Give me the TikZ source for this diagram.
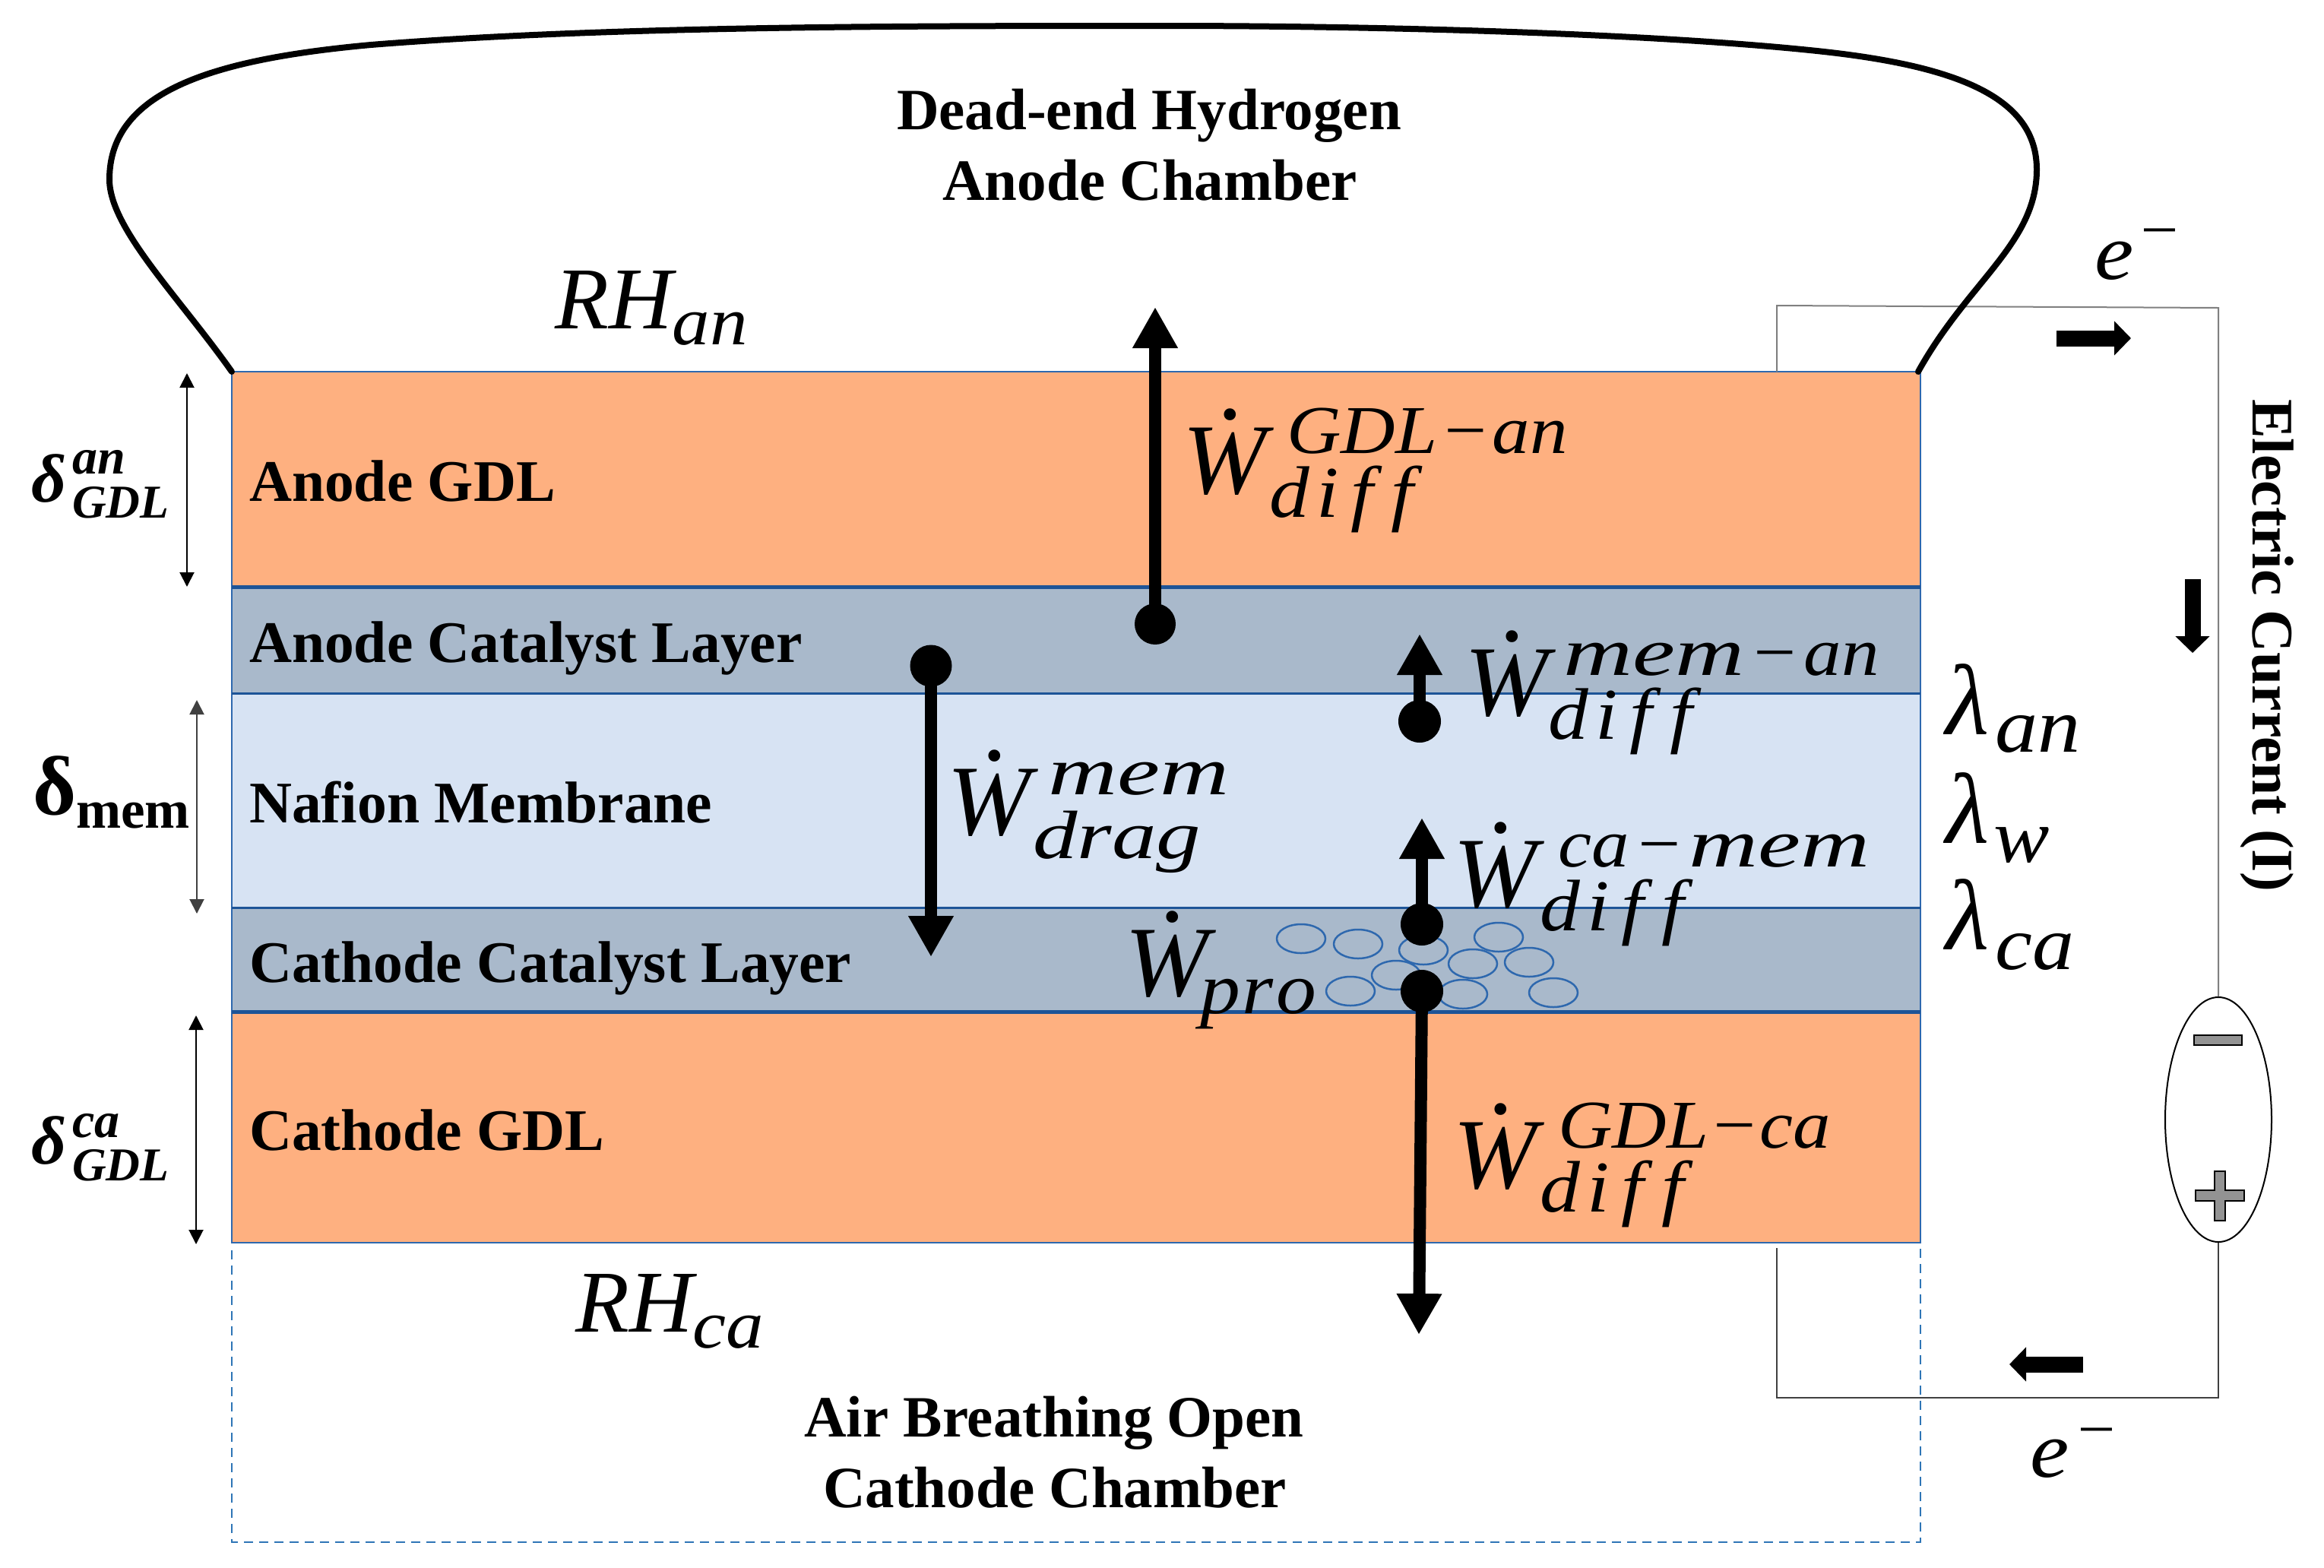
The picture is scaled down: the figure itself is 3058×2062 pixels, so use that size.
\documentclass[tikz,border=0pt]{standalone}
\usepackage{fontspec}
\usetikzlibrary{arrows.meta,shapes.geometric}
\setmainfont{Liberation Serif}
\newfontface\mi{Liberation Serif Italic}[FakeStretch=1.1]
\newfontface\mj{Liberation Serif Italic}
\newfontface\mk{Liberation Serif Italic}[FakeStretch=1.3]
\newfontface\mm{Liberation Serif Italic}[FakeStretch=1.4]
\newfontface\mib{Liberation Serif Bold Italic}
\newfontface\tb{Liberation Serif Bold}
\definecolor{gdlc}{HTML}{FEB080}
\definecolor{catc}{HTML}{A9B9CB}
\definecolor{memc}{HTML}{D7E3F3}
\definecolor{edgec}{HTML}{2E68AE}
\definecolor{edged}{HTML}{1D5497}
\definecolor{dashc}{HTML}{2E75B6}
\newcommand\fs[1]{\fontsize{#1}{#1}\selectfont}
\newcommand\diffword{\fs{96}d\kern10pt i\kern15pt f\kern24pt f}
\newcommand\memw{{\mm mem}}
\newcommand\minw{\kern6pt−\kern6pt}
\newcommand\flux[4]{\hbox{\mj\fs{132}\rlap{\kern41pt\raisebox{98pt}{.}}\rlap{\kern#1pt\raisebox{53pt}{\mi\fs{90}#2}}\rlap{\kern#3pt\raisebox{-31pt}{\mi\fs{90}#4}}\kern-8pt W}}
\newcommand\gdelta[4]{\hbox{\mib\fs{90}\rlap{\kern54pt\raisebox{#2pt}{\fs{66}#1}}\rlap{\kern54pt\raisebox{-#3pt}{\fs{62}#4}}δ}}
\tikzset{
  x=1pt,y=-1pt,
  layer/.style={draw=edgec,line width=2.5pt,minimum width=2222pt,inner sep=0pt,anchor=north west,outer sep=0pt},
  lab/.style={anchor=base west,inner sep=0pt,font=\tb\fs{77.5}},
  clab/.style={anchor=base,inner sep=0pt,font=\tb\fs{77}},
  mlab/.style={anchor=base west,inner sep=0pt},
  dotn/.style={circle,fill=black,inner sep=0pt,minimum size=#1},
  thick arrow/.style={line width=16pt,-{Triangle[width=56pt,length=54pt]}},
  block arrow/.style={line width=21pt,-{Triangle[width=44pt,length=22pt]}},
  dimline/.style={line width=2pt,{Triangle[width=19pt,length=19pt]}-{Triangle[width=19pt,length=19pt]}},
  bubble/.style={draw=edgec,line width=2.5pt,ellipse,minimum width=64pt,minimum height=38pt,inner sep=0pt},
  wire/.style={line width=2pt,draw=#1},
  chamber/.style={line width=8pt,line cap=round},
  pole/.style={draw=black,fill=gray!85,line width=1.5pt},
}
\begin{document}
\begin{tikzpicture}
\useasboundingbox[fill=white] (0,0) rectangle (3058,2062);
% layers
\node[layer,fill=gdlc,minimum height=283pt] (agdl) at (305,489) {};
\node[layer,fill=catc,minimum height=140pt] (acl) at (305,772) {};
\node[layer,fill=memc,minimum height=282pt] (mem) at (305,912) {};
\node[layer,fill=catc,minimum height=137pt] (ccl) at (305,1194) {};
\node[layer,fill=gdlc,minimum height=304pt] (cgdl) at (305,1331) {};
\draw[edged,line width=5pt] (agdl.south west) -- (agdl.south east);
\draw[edged,line width=3pt] (mem.north west) -- (mem.north east);
\draw[edged,line width=3pt] (mem.south west) -- (mem.south east);
\draw[edged,line width=5pt] (cgdl.north west) -- (cgdl.north east);
% cathode chamber
\coordinate (dl) at (305,1645);
\coordinate (dbl) at (305,2029);
\coordinate (dbr) at (2527,2029);
\coordinate (dr) at (2527,1638);
\draw[dashc,line width=2.5pt,dash pattern=on 12pt off 8pt] (dl) -- (dbl) -- (dbr) -- (dr);
% circuit
\node[draw=black,line width=2pt,ellipse,minimum width=140pt,minimum height=322pt,inner sep=0pt] (batt) at (2919,1473) {};
\coordinate (wa) at (2338,489);
\coordinate (wb) at (2338,402);
\coordinate (wc) at (2919,405);
\coordinate (wd) at (2919,1839);
\coordinate (we) at (2338,1839);
\coordinate (wf) at (2338,1642);
\draw[wire=gray] (wa) -- (wb) -- (wc) -- (batt.north);
\draw[wire=black!75] (batt.south) -- (wd) -- (we) -- (wf);
\path[pole] (2887,1362) rectangle (2950,1375);
\path[pole] (2889,1566) -- (2914,1566) -- (2914,1541) -- (2928,1541) -- (2928,1566) -- (2953,1566) -- (2953,1580) -- (2928,1580) -- (2928,1606) -- (2914,1606) -- (2914,1580) -- (2889,1580) -- cycle;
% chamber outline
\coordinate (cha) at (305,489);
\coordinate (chb) at (2524,489);
\draw[chamber] (cha) .. controls (235,390) and (144,300) .. (144,236)
  .. controls (144,120) and (280,78) .. (488,59)
  .. controls (800,34) and (1200,34) .. (1530,34)
  .. controls (1850,34) and (2200,46) .. (2400,68)
  .. controls (2580,88) and (2680,130) .. (2680,223)
  .. controls (2680,320) and (2590,370) .. (chb);
% bubbles
\foreach \n/\px/\py in {1/1712/1235,2/1787/1242,3/1873/1250,4/1837/1283,5/1777/1304,6/1925/1308,7/1938/1268,8/1972/1233,9/2012/1266,10/2044/1306}
  \node[bubble] (bub\n) at (\px,\py) {};
% thick arrows
\node[dotn=54pt] (d1) at (1520,821) {};
\coordinate (t1) at (1520,404);
\draw[thick arrow] (d1.center) -- (t1);
\node[dotn=55pt] (d2) at (1225,876) {};
\coordinate (t2) at (1225,1259);
\draw[thick arrow] (d2.center) -- (t2);
\node[dotn=56pt] (d3) at (1868,949) {};
\coordinate (t3) at (1868,834);
\draw[thick arrow] (d3.center) -- (t3);
\node[dotn=56pt] (d4) at (1871,1216) {};
\coordinate (t4) at (1871,1076);
\draw[thick arrow] (d4.center) -- (t4);
\node[dotn=56pt] (d5) at (1871,1304) {};
\coordinate (t5) at (1867,1756);
\draw[thick arrow] (d5.center) -- (t5);
% block arrows
\coordinate (b1s) at (2706,445); \coordinate (b1e) at (2804,445);
\draw[block arrow] (b1s) -- (b1e);
\coordinate (b2s) at (2885,762); \coordinate (b2e) at (2885,859);
\draw[block arrow] (b2s) -- (b2e);
\coordinate (b3s) at (2741,1795); \coordinate (b3e) at (2644,1795);
\draw[block arrow] (b3s) -- (b3e);
% dimension arrows
\coordinate (m1a) at (246,491); \coordinate (m1b) at (246,772);
\draw[dimline] (m1a) -- (m1b);
\coordinate (m2a) at (259,921); \coordinate (m2b) at (259,1202);
\draw[dimline,draw=black!75] (m2a) -- (m2b);
\coordinate (m3a) at (258,1336); \coordinate (m3b) at (258,1637);
\draw[dimline] (m3a) -- (m3b);
% layer labels
\node[lab] (l1) at (328,659) {Anode GDL};
\node[lab] (l2) at (328,871) {Anode Catalyst Layer};
\node[lab] (l3) at (328,1082) {Nafion Membrane};
\node[lab] (l4) at (328,1292) {Cathode Catalyst Layer};
\node[lab] (l5) at (328,1513) {Cathode GDL};
\node[clab] (t11) at (1512,170) {Dead-end Hydrogen};
\node[clab] (t12) at (1513,263) {Anode Chamber};
\node[clab] (t21) at (1387,1890) {Air Breathing Open};
\node[clab] (t22) at (1388,1983) {Cathode Chamber};
\node[lab,rotate=-90] (ec) at (2964,525) {Electric Current (I)};
% flux labels
\node[mlab] (f1) at (1564,649) {\flux{129}{GDL\kern3pt−\kern3pt an}{106}{\diffword}};
\node[mlab] (f2) at (1935,941) {\flux{122}{\memw\minw an}{102}{\diffword}};
\node[mlab] (f3) at (1920,1193) {\flux{130}{ca\minw\memw}{106}{\diffword}};
\node[mlab] (f4) at (1920,1563) {\flux{130}{GDL−ca}{106}{\diffword}};
\node[mlab] (f5) at (1254,1098) {\flux{125}{\memw}{105}{\mk drag}};
\node[mlab] (f6) at (1488,1310) {\hbox{\mj\fs{132}\rlap{\kern41pt\raisebox{98pt}{.}}\rlap{\kern91pt\raisebox{-23pt}{\mi\fs{96}p\kern3pt r\kern3pt o}}\kern-8pt W}};
% RH
\node[mlab] (rh1) at (730,432) {\hbox{\mj\fs{116}RH\raisebox{-21pt}{\mi\fs{90}an}}};
\node[mlab] (rh2) at (757,1752) {\hbox{\mj\fs{116}RH\raisebox{-21pt}{\mi\fs{90}ca}}};
% lambda
\node[mlab] (la1) at (2560,966) {\hbox{\mj\fs{132}λ\kern8pt\raisebox{-23pt}{\mi\fs{102}an}}};
\node[mlab] (la2) at (2560,1109) {\hbox{\mj\fs{132}λ\kern6pt\raisebox{-25pt}{\mi\fs{100}w}}};
\node[mlab] (la3) at (2560,1249) {\hbox{\mj\fs{132}λ\kern8pt\raisebox{-26pt}{\mi\fs{100}ca}}};
% electrons
\node[mlab] (e1) at (2756,367) {\hbox{\mi\fs{105}e\kern4pt\raisebox{38pt}{\fs{80}−}}};
\node[mlab] (e2) at (2671,1943) {\hbox{\mi\fs{105}e\kern6pt\raisebox{36pt}{\fs{80}−}}};
% thickness labels
\node[mlab] (g1) at (41,660) {\gdelta{an}{37}{21}{GDL}};
\node[mlab] (g2) at (41,1531) {\gdelta{ca}{35}{22}{GDL}};
\node[mlab] (g3) at (43,1071) {\hbox{\tb\fs{110}δ\raisebox{-18pt}{\fs{71}mem}}};
\end{tikzpicture}
\end{document}
